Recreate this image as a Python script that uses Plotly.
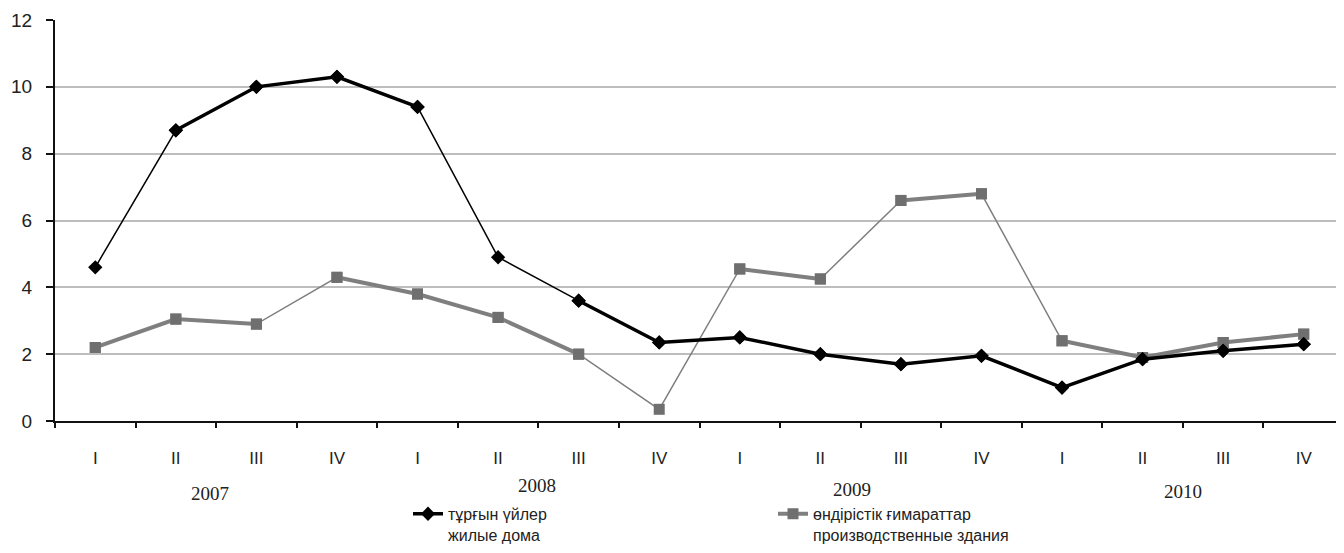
import plotly.graph_objs as go

# Data
quarters = ["I", "II", "III", "IV", "I", "II", "III", "IV",
            "I", "II", "III", "IV", "I", "II", "III", "IV"]
years = ["2007", "2008", "2009", "2010"]
residential = [4.6, 8.7, 10.0, 10.3, 9.4, 4.9, 3.6, 2.35,
               2.5, 2.0, 1.7, 1.95, 1.0, 1.85, 2.1, 2.3]
industrial = [2.2, 3.05, 2.9, 4.3, 3.8, 3.1, 2.0, 0.35,
              4.55, 4.25, 6.6, 6.8, 2.4, 1.9, 2.35, 2.6]
name_res = "тұрғын үйлер<br>жилые дома"
name_ind = "өндірістік ғимараттар<br>производственные здания"

# segments drawn with a heavier stroke (as in the scanned original)
res_thick = [1, 2, 3, 6, 7, 8, 9, 10, 11, 12, 13, 14]
ind_thick = [0, 1, 3, 4, 5, 8, 10, 12, 13, 14]

x_idx = list(range(len(quarters)))


def thick_path(values, segs):
    xs, ys = [], []
    prev = None
    for s in segs:
        if prev is None or s != prev + 1:
            if prev is not None:
                xs.append(None); ys.append(None)
            xs.append(s); ys.append(values[s])
        xs.append(s + 1); ys.append(values[s + 1])
        prev = s
    return xs, ys


BLACK = "#000000"
GREY_LINE = "#7f7f7f"
GREY_MARK = "#6f6f6f"

fig = go.Figure()

# Industrial buildings (grey)
fig.add_trace(go.Scatter(x=x_idx, y=industrial, mode="lines+markers", showlegend=False,
                         line=dict(color=GREY_LINE, width=1.5),
                         marker=dict(symbol="square", size=11, color=GREY_MARK)))
tx, ty = thick_path(industrial, ind_thick)
fig.add_trace(go.Scatter(x=tx, y=ty, mode="lines+markers", name=name_ind, legend="legend2",
                         line=dict(color=GREY_LINE, width=4),
                         marker=dict(symbol="square", size=11, color=GREY_MARK)))

# Residential buildings (black)
fig.add_trace(go.Scatter(x=x_idx, y=residential, mode="lines+markers", showlegend=False,
                         line=dict(color=BLACK, width=1.5),
                         marker=dict(symbol="diamond", size=11, color=BLACK)))
tx, ty = thick_path(residential, res_thick)
fig.add_trace(go.Scatter(x=tx, y=ty, mode="lines+markers", name=name_res, legend="legend",
                         line=dict(color=BLACK, width=3.5),
                         marker=dict(symbol="diamond", size=11, color=BLACK)))

# Year labels under the quarter ticks
year_x = [1.42, 5.48, 9.39, 13.5]
year_y = [-0.18, -0.162, -0.172, -0.175]
for yr, xx, yy in zip(years, year_x, year_y):
    fig.add_annotation(text=yr, x=xx, y=yy, xref="x", yref="paper", showarrow=False,
                       xanchor="center", yanchor="middle",
                       font=dict(family="Liberation Serif", size=19, color="#222"))

# page body adds an 8px offset, so the figure is sized/marged to compensate
fig.update_layout(
    width=1336, height=545,
    margin=dict(l=47, r=0, t=12, b=132),
    paper_bgcolor="white", plot_bgcolor="white",
    font=dict(family="Liberation Sans", size=16, color="#222"),
    xaxis=dict(range=[-0.5, 15.5], tickmode="array", tickvals=x_idx, ticktext=quarters,
               ticks="", showgrid=False, zeroline=False, automargin=False,
               showline=True, linecolor="#111", linewidth=2,
               tickfont=dict(size=17), ticklabelstandoff=21,
               minor=dict(tickmode="array", tickvals=[i - 0.5 for i in x_idx],
                          ticks="outside", ticklen=5, tickwidth=2, tickcolor="#111", showgrid=False)),
    yaxis=dict(range=[0, 12], dtick=2, showgrid=True, gridcolor="#bdbdbd", gridwidth=2,
               zeroline=False, showline=True, linecolor="#111", linewidth=2, automargin=False,
               ticks="outside", ticklen=7, tickwidth=2, tickcolor="#111",
               tickfont=dict(size=19), ticklabelstandoff=10),
    legend=dict(orientation="h", xref="container", yref="container",
                x=0.2994, xanchor="left", y=0.103, yanchor="top",
                valign="top", bgcolor="rgba(0,0,0,0)", font=dict(size=16, color="#222")),
    legend2=dict(orientation="h", xref="container", yref="container",
                 x=0.5726, xanchor="left", y=0.103, yanchor="top",
                 valign="top", bgcolor="rgba(0,0,0,0)", font=dict(size=16, color="#222")),
)

fig.write_html("out.html")
